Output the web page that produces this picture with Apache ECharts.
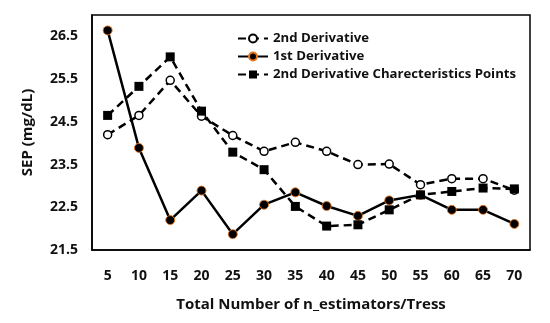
<!DOCTYPE html>
<html><head><meta charset="utf-8">
<script src="https://cdn.jsdelivr.net/npm/echarts@6/dist/echarts.min.js"></script>
<style>html,body{margin:0;padding:0;background:#fff}#c{width:550px;height:323px}</style>
</head><body><div id="c"></div>
<script>
var categories = ['5','10','15','20','25','30','35','40','45','50','55','60','65','70'];
var secondDeriv = [24.20,24.65,25.47,24.63,24.18,23.81,24.02,23.81,23.50,23.51,23.03,23.17,23.17,22.90];
var firstDeriv = [26.64,23.89,22.20,22.89,21.87,22.56,22.85,22.53,22.30,22.66,22.79,22.44,22.44,22.11];
var charPoints = [24.65,25.33,26.02,24.75,23.79,23.38,22.52,22.06,22.09,22.44,22.79,22.87,22.95,22.93];
var yTicks = [21.5,22.5,23.5,24.5,25.5,26.5];
var names = ['2nd Derivative','1st Derivative','2nd Derivative Charecteristics Points'];

var FONT = 'Open Sans';
var chart = echarts.init(document.getElementById('c'), null, {renderer:'canvas'});
chart.setOption({
  animation:false,
  backgroundColor:'#fff',
  grid:{left:92,top:15,width:438,height:235,show:true,borderColor:'#000',borderWidth:1.5,backgroundColor:'transparent'},
  legend:{
    orient:'vertical', left:232, top:27, itemWidth:30, itemHeight:10, itemGap:5,
    textStyle:{fontFamily:FONT,fontWeight:'bold',fontSize:13.2,color:'#111'},
    data:names
  },
  xAxis:{
    type:'category', data:categories, boundaryGap:true,
    axisLine:{show:true,lineStyle:{color:'#000',width:1.5}},
    axisTick:{show:false},
    axisLabel:{fontFamily:FONT,fontWeight:'bold',fontSize:14,color:'#111',margin:19},
    name:'Total Number of n_estimators/Tress', nameLocation:'middle', nameGap:47,
    nameTextStyle:{fontFamily:FONT,fontWeight:'bold',fontSize:15,color:'#111'}
  },
  yAxis:{
    type:'value', min:21.5, max:27, interval:1,
    axisLine:{show:true,lineStyle:{color:'#000',width:1.5}},
    axisTick:{show:false}, splitLine:{show:false},
    axisLabel:{fontFamily:FONT,fontWeight:'bold',fontSize:14,color:'#111',margin:14,showMaxLabel:false,
      formatter:function(v){ return yTicks.indexOf(Math.round(v*10)/10)>=0 ? v.toFixed(1) : ''; }},
    name:'SEP (mg/dL)', nameLocation:'middle', nameGap:57,
    nameTextStyle:{fontFamily:FONT,fontWeight:'bold',fontSize:15,color:'#111'}
  },
  series:[
    {name:names[0], type:'line', data:secondDeriv, symbol:'circle', symbolSize:8, z:3,
     lineStyle:{color:'#000',width:2.5,type:[8,5]},
     itemStyle:{color:'#fff',borderColor:'#000',borderWidth:1.5}},
    {name:names[1], type:'line', data:firstDeriv, symbol:'circle', symbolSize:9, z:4,
     lineStyle:{color:'#000',width:2.5},
     itemStyle:{color:'#000',borderColor:'#E8761F',borderWidth:0.9}},
    {name:names[2], type:'line', data:charPoints, symbol:'rect', symbolSize:9, z:5,
     lineStyle:{color:'#000',width:2.5,type:[8,5]},
     itemStyle:{color:'#000',borderColor:'#000',borderWidth:0}}
  ]
});
</script></body></html>
